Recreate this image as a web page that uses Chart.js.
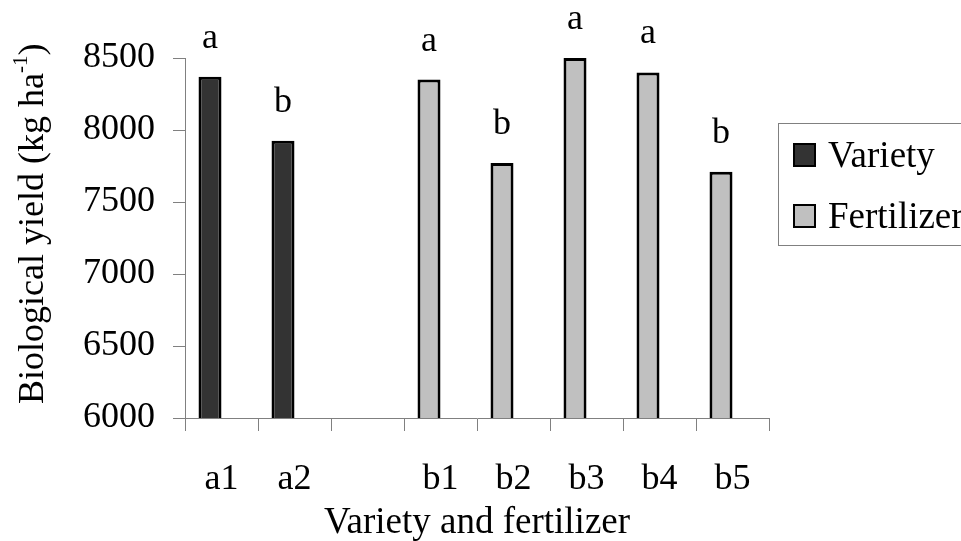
<!DOCTYPE html>
<html>
<head>
<meta charset="utf-8">
<script src="https://cdn.jsdelivr.net/npm/chart.js@4/dist/chart.umd.min.js"></script>
<style>
  html, body { margin: 0; padding: 0; background: #fff; overflow: hidden; }
  #wrap { width: 961px; height: 541px; }
</style>
</head>
<body>
<div id="wrap"><canvas id="bar-chart" width="961" height="541"></canvas></div>
<script>
"use strict";

const categories = ["a1", "a2", "", "b1", "b2", "b3", "b4", "b5"];
const varietyValues = [8370, 7925, null, null, null, null, null, null];
const fertilizerValues = [null, null, null, 8350, 7770, 8500, 8400, 7710];
const letters = ["a", "b", "", "a", "b", "a", "a", "b"];
const yTicks = [6000, 6500, 7000, 7500, 8000, 8500];

const serif = "'Liberation Serif', 'Times New Roman', serif";

const lettersPlugin = {
  id: "letters",
  afterDatasetsDraw(chart) {
    const ctx = chart.ctx;
    ctx.save();
    ctx.font = `36px ${serif}`;
    ctx.fillStyle = "#000";
    ctx.textAlign = "center";
    ctx.textBaseline = "alphabetic";
    [0, 1].forEach((di) => {
      chart.getDatasetMeta(di).data.forEach((bar, i) => {
        const v = chart.data.datasets[di].data[i];
        if (v == null || !letters[i]) return;
        ctx.fillText(letters[i], bar.x, bar.y - 29);
      });
    });
    ctx.restore();
  },
};

const extrasPlugin = {
  id: "extras",
  afterDraw(chart) {
    const ctx = chart.ctx;
    ctx.save();
    // y axis title with superscript
    ctx.translate(43, 404);
    ctx.rotate(-Math.PI / 2);
    ctx.fillStyle = "#000";
    ctx.textBaseline = "alphabetic";
    ctx.textAlign = "left";
    ctx.font = `36px ${serif}`;
    const main = "Biological yield (kg ha";
    ctx.fillText(main, 0, 0);
    let x = ctx.measureText(main).width;
    ctx.font = `21px ${serif}`;
    ctx.fillText("-1", x, -16);
    x += ctx.measureText("-1").width;
    ctx.font = `36px ${serif}`;
    ctx.fillText(")", x, 0);
    ctx.restore();

    // legend
    ctx.save();
    ctx.strokeStyle = "#808080";
    ctx.lineWidth = 1;
    ctx.strokeRect(778.5, 123.5, 240, 122);
    const items = chart.data.datasets.slice(0, 2);
    const rows = [167, 228];
    items.forEach((ds, i) => {
      const by = rows[i] - 23;
      ctx.fillStyle = ds.backgroundColor;
      ctx.fillRect(794, by, 21, 22);
      ctx.strokeStyle = "#000";
      ctx.lineWidth = 2;
      ctx.strokeRect(794, by, 21, 22);
      ctx.fillStyle = "#000";
      ctx.font = `37px ${serif}`;
      ctx.textBaseline = "alphabetic";
      ctx.fillText(ds.label, 828, rows[i]);
    });
    ctx.restore();
  },
};

new Chart(document.getElementById("bar-chart"), {
  type: "bar",
  data: {
    labels: categories,
    datasets: [
      {
        label: "Variety",
        data: varietyValues,
        backgroundColor: "#333333",
        borderColor: "#000",
        borderWidth: 3,
        stack: "g1",
      },
      {
        label: "Fertilizer",
        data: fertilizerValues,
        backgroundColor: "#c0c0c0",
        borderColor: "#000",
        borderWidth: 3,
        stack: "g1",
      },
      {
        label: "",
        data: categories.map(() => null),
        stack: "g2",
      },
    ],
  },
  plugins: [lettersPlugin, extrasPlugin],
  options: {
    responsive: false,
    animation: false,
    categoryPercentage: 0.63,
    barPercentage: 1.0,
    layout: { padding: { top: 58, right: 192, bottom: 0, left: 0 } },
    plugins: {
      legend: { display: false },
      tooltip: { enabled: false },
    },
    scales: {
      x: {
        offset: true,
        grid: {
          offset: true,
          drawOnChartArea: false,
          tickLength: 13,
          color: "#808080",
        },
        border: { color: "#808080", width: 1 },
        ticks: {
          color: "#000",
          font: { family: serif, size: 36 },
          padding: 27,
          maxRotation: 0,
          autoSkip: false,
        },
        title: {
          display: true,
          text: "Variety and fertilizer",
          color: "#000",
          font: { family: serif, size: 37 },
          padding: { top: 0, bottom: -4 },
        },
        afterFit(scale) { scale.height = 123; },
      },
      y: {
        stacked: false,
        min: 6000,
        max: 8500,
        afterBuildTicks(scale) { scale.ticks = yTicks.map((v) => ({ value: v })); },
        grid: {
          drawOnChartArea: false,
          tickLength: 12,
          color: "#808080",
        },
        border: { color: "#808080", width: 1 },
        ticks: {
          color: "#000",
          font: { family: serif, size: 36 },
          padding: 18,
          callback: (v) => String(v),
        },
        afterFit(scale) { scale.width = 185; },
      },
    },
  },
});
</script>
</body>
</html>
